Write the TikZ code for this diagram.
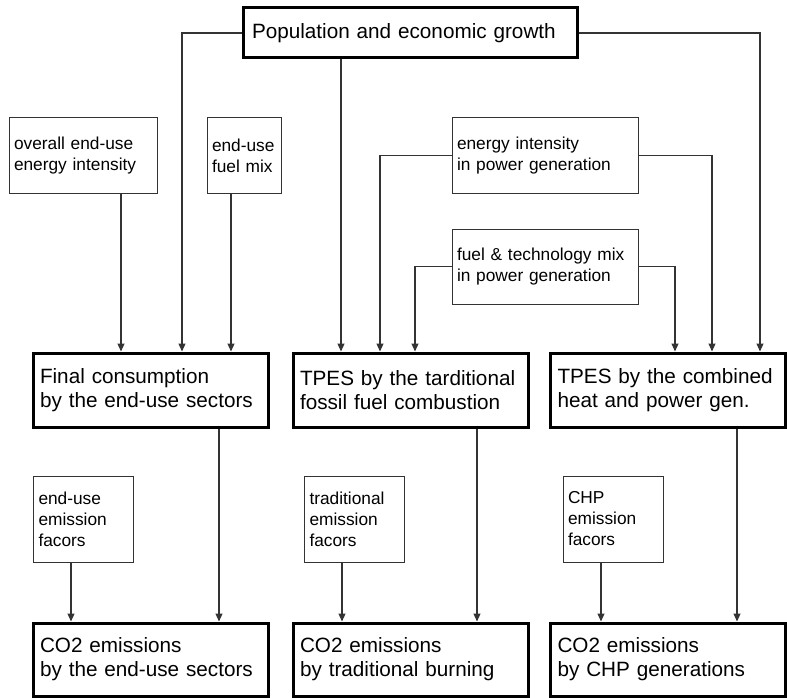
\documentclass[tikz,border=0pt]{standalone}
\usepackage{fontspec}
\setmainfont{Liberation Sans}
\usetikzlibrary{arrows.meta}

\tikzset{
  bigbox/.style={draw=black, line width=3pt, rectangle, inner xsep=7pt, inner ysep=2pt,
    text width=221pt, minimum height=74pt, align=left, font=\fontsize{20.7}{24}\selectfont},
  topbox/.style={bigbox, inner xsep=9pt, text width=316pt, minimum height=50pt},
  smallbox/.style={draw=black!80, line width=1pt, rectangle, inner xsep=5pt, inner ysep=2pt,
    minimum height=75pt, align=left, font=\fontsize{17.3}{21}\selectfont},
  link/.style={draw=black!80, line width=1.1pt, -{Triangle[length=8pt,width=7pt]}}
}

\begin{document}
\begin{tikzpicture}[x=1pt, y=-1pt]
  \useasboundingbox (0,0) rectangle (787,698);

  % driver at the top
  \node[topbox] (pop) at (410,33) {Population and economic growth};

  % factors above the energy boxes
  \node[smallbox, text width=138pt] (eint) at (83,155.5) {overall end-use\\energy intensity};
  \node[smallbox, text width=64pt] (fmix) at (244,155.5) {end-use\\fuel mix};
  \node[smallbox, text width=176pt] (pint) at (545,155.5) {energy intensity\\in power generation};
  \node[smallbox, text width=176pt] (pmix) at (545,266.5) {fuel \& technology mix\\in power generation};

  % energy boxes
  \node[bigbox] (final) at (150.5,390) {Final consumption\\by the end-use sectors};
  \node[bigbox] (trad) at (410.5,390) {TPES by the tarditional\\fossil fuel combustion};
  \node[bigbox] (chp) at (668,390) {TPES by the combined\\heat and power gen.};

  % emission factors
  \node[smallbox, text width=90pt, minimum height=86pt] (efend) at (83.5,519) {end-use\\emission\\facors};
  \node[smallbox, text width=90pt, minimum height=86pt] (eftrad) at (354.5,519) {traditional\\emission\\facors};
  \node[smallbox, text width=90pt, minimum height=86pt] (efchp) at (613,519) {CHP\\emission\\facors};

  % emissions
  \node[bigbox, minimum height=73pt] (coend) at (150.5,659.5) {CO2 emissions\\by the end-use sectors};
  \node[bigbox, minimum height=73pt] (cotrad) at (410.5,659.5) {CO2 emissions\\by traditional burning};
  \node[bigbox, minimum height=73pt] (cochp) at (668,659.5) {CO2 emissions\\by CHP generations};

  % links from the top
  \draw[link] (pop.west) -| (final.north -| 182,0);
  \draw[link] (pop.south -| 341,0) -- (trad.north -| 341,0);
  \draw[link] (pop.east) -| (chp.north -| 760,0);
  \draw[link] (eint.south -| 121,0) -- (final.north -| 121,0);
  \draw[link] (fmix.south -| 231,0) -- (final.north -| 231,0);
  \draw[link] (pint.west) -| (trad.north -| 380,0);
  \draw[link] (pmix.west) -| (trad.north -| 415,0);
  \draw[link] (pint.east) -| (chp.north -| 712,0);
  \draw[link] (pmix.east) -| (chp.north -| 675,0);

  % links to the emissions
  \draw[link] (final.south -| 219,0) -- (coend.north -| 219,0);
  \draw[link] (trad.south -| 477,0) -- (cotrad.north -| 477,0);
  \draw[link] (chp.south -| 737,0) -- (cochp.north -| 737,0);
  \draw[link] (efend.south -| 71,0) -- (coend.north -| 71,0);
  \draw[link] (eftrad.south -| 342,0) -- (cotrad.north -| 342,0);
  \draw[link] (efchp.south -| 601,0) -- (cochp.north -| 601,0);
\end{tikzpicture}
\end{document}
